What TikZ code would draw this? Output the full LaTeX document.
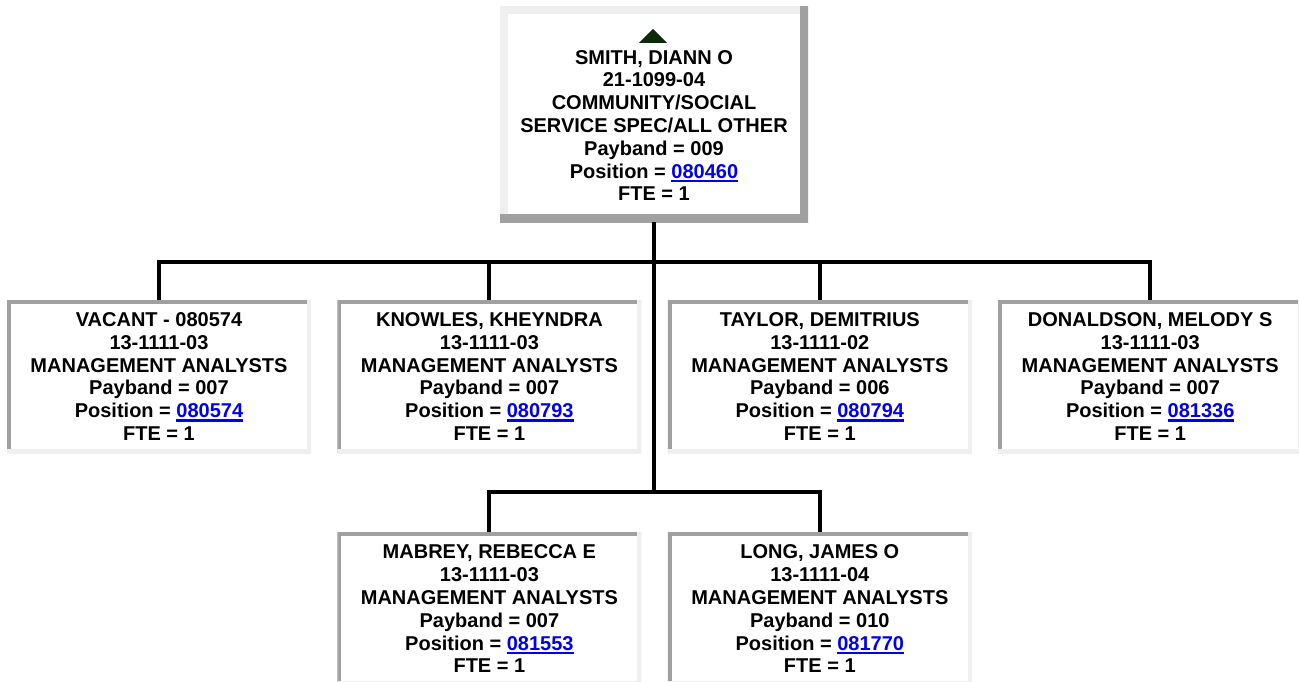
\documentclass[tikz,border=0pt]{standalone}
\usepackage{fontspec}
\setmainfont{Liberation Sans}
\usepackage{xcolor}
\usetikzlibrary{positioning,calc}

\definecolor{boxdark}{HTML}{A0A0A0}
\definecolor{boxlight}{HTML}{EFEFEF}
\definecolor{linkblue}{HTML}{0000EE}
\definecolor{upgreen}{HTML}{0B2B0B}

\newcommand\boxfont{\bfseries\fontsize{20}{22.8}\selectfont}
\newsavebox\linkbox
\newcommand\poslink[1]{{\color{linkblue}\sbox\linkbox{#1}\rlap{\rule[-4pt]{\wd\linkbox}{2.4pt}}\usebox\linkbox}}

\begin{document}
\begin{tikzpicture}[
		x=1pt, y=1pt,
		node distance=26pt,
		topbox/.style={
			fill=white,
			minimum width=308pt,
			minimum height=216pt,
			inner sep=0pt,
			align=center,
			font=\boxfont,
			path picture={
				\draw[boxlight, line width=16pt] (path picture bounding box.south west) -- (path picture bounding box.north west) -- (path picture bounding box.north east);
				\draw[boxdark, line width=16pt] (path picture bounding box.north east) -- (path picture bounding box.south east) -- (path picture bounding box.south west);
			}
		},
		staffbox/.style={
			fill=white,
			minimum width=304pt,
			minimum height=153pt,
			inner sep=0pt,
			align=center,
			font=\boxfont,
			path picture={
				\draw[boxdark, line width=8pt] (path picture bounding box.south west) -- (path picture bounding box.north west) -- (path picture bounding box.north east);
				\draw[boxlight, line width=8pt] (path picture bounding box.north east) -- (path picture bounding box.south east) -- (path picture bounding box.south west);
			}
		},
		link/.style={line width=4pt}
		]
		
		\useasboundingbox (0,0) rectangle (1299,-681);
		
		\node (smith) [topbox] at (654,-114) {\rule{0pt}{14pt}\\ SMITH, DIANN O\\ 21-1099-04\\ COMMUNITY/SOCIAL\\ SERVICE SPEC/ALL OTHER\\ Payband = 009\\ Position = \poslink{080460}\\ FTE = 1};
		\fill[upgreen] ($(smith.north)+(-15,-37)$) -- ($(smith.north)+(13,-37)$) -- ($(smith.north)+(-1,-23)$) -- cycle;
		
		\node (vacant) [staffbox] at (159,-376.5) {VACANT - 080574\\ 13-1111-03\\ MANAGEMENT ANALYSTS\\ Payband = 007\\ Position = \poslink{080574}\\ FTE = 1};
		
		\node (knowles) [staffbox, right=of vacant] {KNOWLES, KHEYNDRA\\ 13-1111-03\\ MANAGEMENT ANALYSTS\\ Payband = 007\\ Position = \poslink{080793}\\ FTE = 1};
		
		\node (taylor) [staffbox, right=of knowles] {TAYLOR, DEMITRIUS\\ 13-1111-02\\ MANAGEMENT ANALYSTS\\ Payband = 006\\ Position = \poslink{080794}\\ FTE = 1};
		
		\node (donaldson) [staffbox, right=of taylor] {DONALDSON, MELODY S\\ 13-1111-03\\ MANAGEMENT ANALYSTS\\ Payband = 007\\ Position = \poslink{081336}\\ FTE = 1};
		
		\node (mabrey) [staffbox, below=79pt of knowles] {MABREY, REBECCA E\\ 13-1111-03\\ MANAGEMENT ANALYSTS\\ Payband = 007\\ Position = \poslink{081553}\\ FTE = 1};
		
		\node (long) [staffbox, right=of mabrey] {LONG, JAMES O\\ 13-1111-04\\ MANAGEMENT ANALYSTS\\ Payband = 010\\ Position = \poslink{081770}\\ FTE = 1};
		
		\coordinate (bar) at ($(smith.south)+(0,-40)$);
		\coordinate (bar2) at ($(bar |- mabrey.north)+(0,40)$);
		
		\draw[link] (smith.south)--(bar);
		\draw[link] (bar)--(bar2);
		\foreach \n in {vacant,knowles,taylor,donaldson}
			\draw[link] (bar) -| (\n.north);
		\foreach \n in {mabrey,long}
			\draw[link] (bar2) -| (\n.north);
		
	\end{tikzpicture}
\end{document}
